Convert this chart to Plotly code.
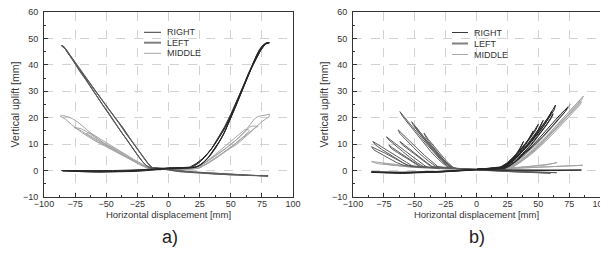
import plotly.graph_objects as go

# ---------------- Data: panel a) ----------------
A_RIGHT_X = [-10, 0, 10, 18, 25, 30, 35, 40, 45, 50, 55, 60, 65, 70, 74, 77, 79, 81,
             79, 76, 72, 68, 64, 60, 56, 52, 48, 44, 40, 36, 32, 28, 24, 20, 10, 0,
             -10, -25, -40, -55, -70, -85, -70, -55, -40, -25, -12,
             0, 10, 17, 22, 27, 32, 37, 42, 47, 52, 57, 62, 67, 71, 75, 78, 80,
             77, 73, 69, 65, 61, 57, 53, 49, 45, 41, 37, 33, 29, 25, 21, 12, 0,
             -15, -30, -45, -60, -75, -86, -75, -60, -45, -30, -15,
             0, 10, 19, 24, 29, 34, 39, 44, 49, 54, 59, 64, 69, 73, 76, 79, 81,
             78, 74, 70, 66, 62, 58, 54, 50, 46, 42, 38, 34, 30, 26, 22, 15, 0]
A_RIGHT_Y = [0.7, 0.9, 1.0, 1.2, 3.2, 5.6, 8.6, 12.3, 16.5, 21.3, 26.5, 32, 37.5, 42.5, 46, 47.8, 48.3, 48.4,
             48.2, 47, 44, 40.5, 36, 31, 26.5, 22, 17.5, 13.5, 10.5, 7.5, 5, 3, 1.7, 1.1, 0.9, 0.6,
             0.3, 0.0, -0.2, -0.3, -0.2, -0.1, -0.4, -0.6, -0.5, -0.3, 0.2,
             1.0, 1.1, 1.3, 2.6, 4.4, 6.8, 9.8, 13.5, 17.7, 22.6, 28, 33.7, 39.5, 44, 47, 48.2, 48.5,
             47.6, 45, 41.5, 37, 32.5, 27.5, 23, 18.5, 14.5, 11, 8, 5.5, 3.5, 2, 1.2, 1.0, 0.7,
             0.4, 0.2, 0.0, -0.1, 0.0, 0.0, -0.3, -0.5, -0.4, -0.2, 0.3,
             0.9, 1.0, 1.1, 2.8, 5, 7.8, 11.2, 15, 19.6, 25, 30.8, 36.6, 42, 45.8, 47.5, 48.3, 48.3,
             47.9, 45.5, 42, 38, 33.5, 29, 24.5, 20, 15.5, 11.8, 8.6, 6, 3.8, 2.2, 1.3, 1.0, 0.8]

A_LEFT_X = [10, 0, -8, -13, -17, -21, -25, -30, -35, -40, -45, -50, -55, -60, -65, -70, -75, -79, -82, -84, -86,
            -84, -81, -77, -73, -69, -65, -61, -57, -53, -49, -45, -41, -37, -33, -29, -25, -21, -17, -12, 0,
            10, 25, 40, 55, 70, 80, 70, 55, 40, 25, 10, 0,
            -8, -14, -18, -22, -27, -32, -37, -42, -47, -52, -57, -62, -67, -72, -77, -81, -84, -86,
            -83, -79, -75, -71, -67, -63, -59, -55, -51, -47, -43, -39, -35, -31, -27, -23, -19, -15, -5, 5,
            20, 35, 50, 65, 80, 65, 50, 35, 20, 5,
            -8, -13, -16, -20, -24, -28, -33, -38, -43, -48, -53, -58, -63, -68, -73, -78, -82, -85,
            -82, -78, -74, -70, -66, -62, -58, -54, -50, -46, -42, -38, -34, -30, -26, -22, -18, -14, 0]
A_LEFT_Y = [0.7, 0.8, 0.9, 1.1, 3, 5.5, 8, 11, 14.5, 18, 21.2, 24.5, 27.8, 31, 34.2, 37.5, 40.5, 43.5, 45.8, 47, 47.3,
            46.8, 44.5, 42, 39, 36.5, 33.5, 30.5, 28, 25, 22.5, 19.5, 17, 14, 11.5, 8.5, 6, 3.5, 1.5, 0.8, 0.5,
            -0.3, -0.7, -1.1, -1.5, -1.9, -2.1, -2.0, -1.7, -1.4, -1.0, -0.5, 0.2,
            0.8, 1.2, 3.5, 6, 9.5, 13, 16.5, 19.5, 22.8, 26, 29.2, 32.3, 35.5, 38.8, 42, 45, 46.8, 47.2,
            46, 43.3, 40.2, 37.3, 34.7, 31.8, 29, 26.3, 23.5, 20.8, 18, 15.3, 12.5, 9.8, 7.2, 4.6, 2.3, 1, 0.7, 0.3,
            -0.5, -1.0, -1.4, -1.8, -2.0, -1.9, -1.6, -1.2, -0.7, -0.1,
            0.9, 1.2, 2.5, 5, 7.5, 10, 13.5, 17, 20, 23.3, 26.5, 29.8, 33, 36.3, 39.5, 43, 45.7, 47.1,
            45.5, 42.7, 39.8, 37, 34, 31.2, 28.4, 25.6, 22.8, 20, 17.3, 14.6, 12, 9.3, 6.7, 4, 2, 1, 0.6]

A_MIDDLE_X = [0, -10, -15, -20, -25, -30, -40, -50, -60, -70, -78, -83, -87,
              -85, -81, -77, -73, -69, -65, -60, -55, -50, -45, -40, -35, -30, -25, -20, -15, -5, 0,
              10, 20, 25, 30, 35, 40, 45, 50, 55, 60, 65, 70, 75, 79, 81,
              81, 78, 75, 72, 69, 66, 63, 60, 55, 50, 45, 40, 35, 30, 25, 20, 10, 0,
              -10, -16, -22, -28, -35, -45, -55, -63, -70, -76,
              -74, -70, -66, -62, -57, -52, -46, -40, -34, -28, -22, -17, -10, 0,
              15, 22, 27, 33, 40, 47, 54, 60, 65, 69, 72,
              70, 67, 65, 62, 58, 53, 47, 40, 33, 27, 22, 15, 0,
              -10, -17, -24, -32, -40, -48, -56, -62, -66,
              -64, -60, -55, -49, -42, -35, -28, -21, -15, 0,
              25, 32, 40, 48, 55, 61, 65,
              64, 61, 57, 50, 43, 36, 29, 24, 15, 0]
A_MIDDLE_Y = [0.5, 0.5, 0.6, 1.5, 2.8, 4, 6.5, 9, 11.5, 14.5, 17.5, 19.5, 20.6,
              20.8, 20.4, 19.6, 18.4, 16.8, 15, 13, 11.3, 9.8, 8.4, 7, 5.6, 4.2, 3, 1.8, 0.8, 0.5, 0.4,
              0.4, 0.6, 1, 2.5, 4, 5.5, 7, 8.5, 10, 12, 14, 16.3, 18.5, 20, 20.5,
              21.3, 21.1, 20.9, 20.5, 19.5, 17.8, 15.8, 14, 11.8, 9.8, 8, 6.3, 4.6, 3, 1.5, 0.7, 0.5, 0.4,
              0.5, 0.8, 2.2, 3.7, 5.3, 7.8, 10.5, 12.8, 15, 16.4,
              16.2, 15.8, 14.8, 13.5, 12, 10.5, 9, 7.5, 6, 4.4, 2.7, 1.3, 0.6, 0.4,
              0.5, 0.8, 1.6, 3.2, 5.5, 7.8, 10.2, 12.5, 14.5, 16, 16.8,
              16.8, 16.8, 16.4, 15, 13, 11, 8.8, 6.5, 4.2, 2.2, 1, 0.6, 0.5,
              0.5, 1, 2.6, 4.6, 6.8, 9, 11.3, 13, 14,
              14.3, 13.5, 12, 10.3, 8.4, 6.3, 4, 2, 0.8, 0.5,
              1, 2.8, 5.2, 8, 10.8, 13.2, 15,
              15.5, 15.4, 13.8, 11, 8.3, 5.5, 3, 1.2, 0.6, 0.5]

# ---------------- Data: panel b) ----------------
B_RIGHT_X = [0, 20, 24, 28, 32, 35, 38, 37, 34, 30, 26, 21, 0,
             -30, -60, -85, -60, -30, 0,
             19, 25, 31, 36, 41, 46, 44, 40, 35, 30, 24, 19, 0,
             18, 25, 32, 38, 44, 50, 48, 43, 37, 31, 25, 19, 0,
             -30, -60, -85, -60, -30, 0,
             20, 27, 34, 40, 45, 50, 54, 52, 48, 43, 37, 31, 25, 20, 0,
             21, 28, 35, 42, 48, 54, 58, 61, 59, 55, 50, 44, 38, 32, 26, 21, 0,
             -30, -60, -85, -60, -30, 0,
             22, 29, 36, 43, 49, 55, 60, 64, 63, 59, 54, 48, 42, 36, 30, 24, 0,
             23, 30, 37, 44, 50, 56, 60, 62, 61, 57, 52, 46, 40, 34, 28, 23, 0,
             24, 32, 40, 48, 55, 62, 68, 74, 72, 67, 61, 54, 47, 40, 33, 26, 0,
             30, 60, 85, 60, 30, 0]
B_RIGHT_Y = [0.5, 0.9, 2.2, 4, 6.2, 8.3, 11, 9.8, 7.2, 4.6, 2.6, 1, 0.5,
             -0.4, -0.8, -0.6, -1.0, -0.6, 0.2,
             0.8, 2.5, 5, 7.8, 11, 15, 13, 9.9, 6.8, 4.2, 2, 0.9, 0.4,
             0.9, 3, 6, 9.3, 13, 17.5, 15.3, 12, 8.7, 5.5, 2.8, 1.1, 0.4,
             -0.3, -0.6, -0.5, -0.8, -0.5, 0.3,
             0.9, 3, 6, 9.2, 12.2, 15.5, 19, 17, 13.7, 10.6, 7.5, 4.6, 2.2, 1, 0.4,
             1, 3.3, 6.4, 10, 13.6, 17.4, 20, 22.5, 20.3, 17.3, 14, 10.6, 7.4, 4.6, 2.2, 1, 0.4,
             -0.4, -1.0, -0.7, -0.9, -0.5, 0.3,
             1, 3.4, 6.5, 10.2, 14, 18, 21.6, 24.8, 23, 20, 16.7, 13.1, 9.8, 6.7, 3.9, 1.6, 0.4,
             1, 3.3, 6.3, 9.8, 13.2, 17, 19.8, 21.5, 20.2, 17.4, 14.1, 10.6, 7.4, 4.5, 2.1, 0.9, 0.4,
             1, 3.6, 7, 10.8, 14.5, 18.3, 21.3, 24, 22.4, 19.7, 16.5, 13, 9.7, 6.6, 3.8, 1.5, 0.4,
             0.2, 0.1, 0.2, 0.0, 0.1, 0.3]

B_LEFT_X = [0, -22, -28, -34, -40, -46, -52, -57, -62, -60, -55, -49, -43, -37, -31, -25, -20, 0,
            30, 65, 30, 0,
            -20, -26, -32, -38, -43, -48, -52.5, -51, -46, -40, -34, -28, -22, -15,
            -18, -24, -30, -35, -39, -42.5, -41, -37, -32, -27, -22, -18, -15,
            -19, -25, -31, -37, -43, -50, -48, -43, -37, -31, -25, -20, -15,
            -30, -36, -42, -48, -54, -59, -63.5, -62, -57, -51, -45, -39, -33, -20,
            -40, -46, -52, -58, -64, -69, -73, -71, -66, -60, -54, -48, -42, -30,
            -51, -57, -63, -69, -75, -80, -84, -82, -77, -71, -65, -59, -53, -40,
            -56, -62, -68, -74, -80, -85, -83, -77, -71, -65, -58, -40,
            -45, -51, -57, -63, -68, -71, -69, -64, -58, -52, -46, -30,
            -35, -41, -47, -53, -58, -62, -60, -55, -49, -43, -37, -15, 0,
            30, 60, 30, 0]
B_LEFT_Y = [0.5, 1, 3.5, 6.5, 9.8, 13.2, 16.6, 19.5, 22.3, 20.6, 17.6, 14, 10.5, 7.2, 4.3, 1.8, 0.9, 0.4,
            -0.2, -0.8, -0.4, 0.3,
            0.9, 3.4, 6.6, 9.9, 12.9, 15.8, 18.5, 17, 13.9, 10.4, 7, 3.9, 1.5, 0.7,
            0.8, 3.4, 6.6, 9.4, 11.8, 14.2, 12.6, 10, 7.1, 4.3, 2, 0.9, 0.7,
            0.9, 3.3, 6.3, 9.5, 12.9, 17, 15.2, 12.2, 8.9, 5.8, 2.9, 1, 0.7,
            1, 3.2, 5.7, 8.4, 11.2, 13.4, 15.4, 14, 11.5, 8.7, 6, 3.6, 1.6, 0.9,
            1.2, 3.2, 5.3, 7.5, 9.6, 11.3, 12.8, 11.6, 9.5, 7.3, 5, 2.9, 1.3, 0.9,
            1.5, 3.2, 5, 6.9, 8.6, 9.9, 11, 9.8, 8.1, 6.3, 4.5, 2.8, 1.5, 1.2,
            2, 3.6, 5.1, 6.6, 7.9, 9, 7.8, 6.2, 4.6, 3.1, 1.8, 1.2,
            1.5, 3.3, 5.1, 7, 8.6, 9.7, 8.4, 6.8, 5, 3.2, 1.6, 1.0,
            1.2, 3.3, 5.5, 7.7, 9.6, 11, 9.7, 7.9, 5.8, 3.7, 1.6, 0.7, 0.4,
            -0.3, -1.0, -0.5, 0.2]

B_MIDDLE_X = [0, 25, 33, 41, 49, 56, 63, 69, 76, 74, 68, 61, 54, 47, 40, 33, 27, 0,
              -10, -30, -50, -65, -78, -85, -80, -65, -50, -30, -10, 0,
              26, 34, 42, 50, 58, 65, 72, 78, 84, 82, 76, 69, 62, 55, 48, 41, 34, 28, 0,
              10, 30, 50, 70, 86, 70, 50, 30, 10, 0,
              27, 35, 43, 51, 59, 66, 73, 80, 86.5, 85, 79, 72, 65, 58, 51, 44, 37, 30, 0,
              -15, -35, -55, -68, -76, -68, -55, -35, -15, 0,
              20, 40, 55, 62, 65, 60, 45, 30, 15, 0,
              28, 36, 44, 52, 60, 67, 74, 80, 85, 83, 77, 70, 63, 56, 49, 42, 35, 29, 0]
B_MIDDLE_Y = [0.4, 1, 3.4, 6.6, 10.3, 14, 17.8, 21.5, 25.2, 23.5, 20, 16.2, 12.6, 9.3, 6.2, 3.5, 1.3, 0.4,
              0.5, 0.8, 1.5, 2.2, 2.9, 3.4, 2.6, 1.8, 1.2, 0.7, 0.5, 0.4,
              1, 3.3, 6.3, 9.8, 13.6, 17.3, 20.8, 23.8, 26.7, 25, 22, 18.5, 15, 11.6, 8.5, 5.7, 3.2, 1.2, 0.4,
              0.5, 0.9, 1.3, 1.7, 2.0, 1.5, 1.1, 0.7, 0.4, 0.4,
              1, 3.4, 6.5, 10, 13.9, 17.6, 21.3, 24.8, 28.2, 26.6, 23.5, 20, 16.3, 12.8, 9.5, 6.5, 3.8, 1.5, 0.4,
              0.6, 1.0, 1.6, 2.1, 2.6, 2.0, 1.4, 0.9, 0.6, 0.4,
              0.6, 1.3, 2, 2.7, 3, 2.5, 1.7, 1, 0.5, 0.4,
              1, 3.3, 6.3, 9.7, 13.4, 17, 20.5, 23.4, 26, 24.4, 21.3, 17.8, 14.4, 11.1, 8, 5.3, 2.9, 1.1, 0.4]

X_TICKS = [-100, -75, -50, -25, 0, 25, 50, 75, 100]
Y_TICKS = [-10, 0, 10, 20, 30, 40, 50, 60]
SERIES = ["RIGHT", "LEFT", "MIDDLE"]
COLORS = ["#262626", "#5c5c5c", "#a4a4a4"]
WIDTHS = [1.0, 1.0, 1.0]
LEGEND_WIDTHS = [1.0, 2.0, 1.0]
LEGEND_COLORS = ["#3a3a3a", "#808080", "#a8a8a8"]

FONT = "Liberation Sans, Arial, sans-serif"

# The page body has a default 8px margin: the figure is offset by it,
# so it is sized to fill the rest of the 608x257 window.
OFF = 8
W, H = 608 - OFF, 257 - OFF


def px(x):
    return (x - OFF) / W


def py(y):
    return 1 - (y - OFF) / H


fig = go.Figure()
panel_a = [(A_RIGHT_X, A_RIGHT_Y), (A_LEFT_X, A_LEFT_Y), (A_MIDDLE_X, A_MIDDLE_Y)]
panel_b = [(B_RIGHT_X, B_RIGHT_Y), (B_LEFT_X, B_LEFT_Y), (B_MIDDLE_X, B_MIDDLE_Y)]

order = [2, 1, 0]  # middle at back, right on top
for axx, axy, panel in (("x", "y", panel_a), ("x2", "y2", panel_b)):
    for i in order:
        xs, ys = panel[i]
        fig.add_trace(go.Scatter(x=xs, y=ys, mode="lines", name=SERIES[i],
                                 line=dict(color=COLORS[i], width=WIDTHS[i]),
                                 xaxis=axx, yaxis=axy, showlegend=False))


def xax(domain, anchor):
    return dict(domain=domain, anchor=anchor, range=[-100, 100], tickvals=X_TICKS,
                automargin=False, ticklabeloverflow="allow", ticklabelstandoff=-2,
                ticks="inside", ticklen=4, tickwidth=1, tickcolor="#333",
                showline=True, linecolor="#333", linewidth=1, mirror=True,
                showgrid=True, gridcolor="#d2d2d2", griddash="dash", gridwidth=1,
                zeroline=False, tickfont=dict(size=9, family=FONT, color="#333"),
                minor=dict(ticks="inside", ticklen=2, dtick=12.5, tick0=0, tickcolor="#333", showgrid=False),
                title=dict(text="Horizontal displacement [mm]", standoff=1,
                           font=dict(size=9.5, family=FONT, color="#333")))


def yax(domain, anchor):
    return dict(domain=domain, anchor=anchor, range=[-10, 60], tickvals=Y_TICKS,
                automargin=False, ticklabeloverflow="allow", ticklabelstandoff=3,
                ticks="inside", ticklen=4, tickwidth=1, tickcolor="#333",
                showline=True, linecolor="#333", linewidth=1, mirror=True,
                showgrid=True, gridcolor="#d2d2d2", griddash="dash", gridwidth=1,
                zeroline=False, tickfont=dict(size=9, family=FONT, color="#333"),
                minor=dict(ticks="inside", ticklen=2, dtick=5, tick0=0, tickcolor="#333", showgrid=False),
                title=dict(text="Vertical uplift [mm]", standoff=1,
                           font=dict(size=10.5, family=FONT, color="#333")))


ydom = [py(197), py(12)]

# manual compact legends (line sample + label), positioned in window pixels
shapes = []
annotations = []
for (lx0, lx1, tx, ys) in ((144, 161, 165, (32.3, 42.7, 53.3)), (452, 468, 472, (32.5, 43.5, 54.5))):
    for i in range(3):
        shapes.append(dict(type="line", xref="paper", yref="paper",
                           x0=px(lx0), x1=px(lx1), y0=py(ys[i]), y1=py(ys[i]),
                           line=dict(color=LEGEND_COLORS[i], width=LEGEND_WIDTHS[i])))
        annotations.append(dict(text=SERIES[i], x=px(tx), y=py(ys[i]), xref="paper", yref="paper",
                                xanchor="left", yanchor="middle", showarrow=False,
                                font=dict(size=9, family=FONT, color="#333")))

annotations += [
    dict(text="a)", x=px(170), y=py(237), xref="paper", yref="paper",
         xanchor="center", yanchor="middle",
         showarrow=False, font=dict(size=18, family=FONT, color="#222")),
    dict(text="b)", x=px(477), y=py(237), xref="paper", yref="paper",
         xanchor="center", yanchor="middle",
         showarrow=False, font=dict(size=18, family=FONT, color="#222")),
]

fig.update_layout(
    width=W, height=H,
    margin=dict(l=0, r=0, t=0, b=0, autoexpand=False),
    paper_bgcolor="white", plot_bgcolor="white",
    font=dict(family=FONT, color="#333"),
    showlegend=False,
    xaxis=xax([px(44), px(293)], "y"),
    yaxis=yax(ydom, "x"),
    xaxis2=xax([px(353), px(600)], "y2"),
    yaxis2=yax(ydom, "x2"),
    shapes=shapes,
    annotations=annotations,
)

fig.write_html("out.html")
